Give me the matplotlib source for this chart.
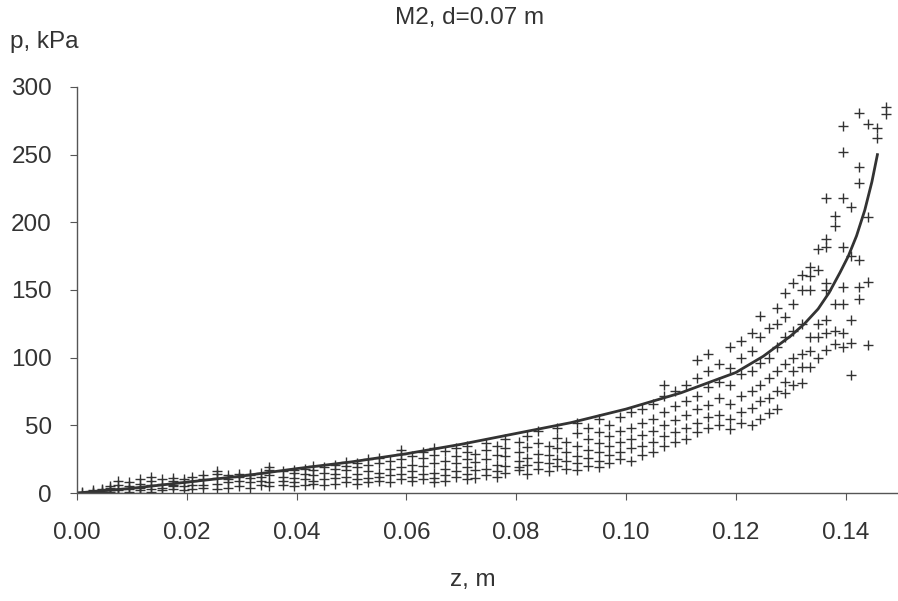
import matplotlib
matplotlib.use('Agg')
from matplotlib import pyplot as plt

# measured points, grouped by depth z (m); pressure p (kPa)
z_cols = [0.001, 0.003, 0.0045, 0.006, 0.0075, 0.0095, 0.0115, 0.0135, 0.0155, 0.0175,
          0.0195, 0.021, 0.023, 0.0255, 0.0275, 0.0295, 0.0315, 0.0335, 0.035, 0.0375,
          0.0395, 0.0415, 0.043, 0.045, 0.047, 0.049, 0.051, 0.053, 0.055, 0.057,
          0.059, 0.061, 0.063, 0.065, 0.067, 0.069, 0.071, 0.0725, 0.0745, 0.0765,
          0.078, 0.0805, 0.082, 0.084, 0.086, 0.0875, 0.089, 0.091, 0.093, 0.095,
          0.097, 0.099, 0.101, 0.103, 0.105, 0.107, 0.109, 0.111, 0.113, 0.115,
          0.117, 0.119, 0.121, 0.123, 0.1245, 0.126, 0.1275, 0.129, 0.1305, 0.132,
          0.1335, 0.135, 0.1365, 0.138, 0.1395, 0.141, 0.1425, 0.144, 0.1458, 0.1474]
p_cols = [
    [0, 1], [0, 1, 2], [1, 2, 3], [1, 2, 4, 5], [0, 2, 3, 6, 9],
    [1, 3, 5, 8], [0, 2, 4, 7, 10], [1, 3, 6, 9, 12], [2, 4, 7, 10], [3, 5, 6, 9, 11],
    [2, 5, 8, 10], [3, 6, 9, 12], [4, 6, 10, 13], [3, 7, 11, 14, 16], [4, 8, 10, 13],
    [5, 9, 12, 14], [4, 8, 11, 13, 14], [6, 9, 12, 15], [5, 8, 13, 17, 19], [6, 9, 12, 16],
    [5, 8, 11, 15, 17], [6, 10, 14, 18], [7, 9, 13, 17, 20], [6, 10, 15, 19], [7, 11, 14, 18, 21],
    [8, 12, 17, 20, 23], [7, 10, 14, 19, 22], [8, 11, 16, 21, 25], [9, 12, 15, 22, 26], [8, 13, 18, 24],
    [10, 14, 19, 25, 29, 32], [9, 12, 16, 21, 27], [10, 14, 20, 26, 30], [8, 11, 15, 22, 28, 33], [9, 13, 18, 24, 31],
    [12, 16, 22, 27, 33], [10, 14, 19, 25, 30, 35], [11, 17, 23, 29], [13, 18, 25, 32, 37], [12, 16, 21, 28, 35],
    [15, 20, 27, 33, 40], [17, 19, 24, 30, 38], [14, 21, 26, 34, 42], [18, 23, 29, 37, 46], [16, 22, 28, 35],
    [20, 25, 33, 41, 48], [18, 24, 30, 38], [17, 22, 27, 35, 44, 52], [20, 26, 32, 40, 48], [19, 24, 30, 37, 45, 55],
    [22, 28, 35, 42, 50], [25, 30, 38, 46, 56], [24, 33, 40, 48, 60], [28, 35, 43, 52, 62], [30, 38, 46, 55, 66],
    [35, 42, 50, 60, 72, 80], [38, 45, 54, 64, 75], [40, 48, 58, 68, 80], [45, 52, 62, 72, 85, 98], [48, 56, 65, 78, 90, 103],
    [50, 58, 70, 82, 95], [47, 55, 66, 80, 92, 108], [52, 60, 72, 88, 100, 112], [50, 63, 75, 90, 105, 118], [55, 68, 80, 96, 115, 131],
    [59, 70, 85, 100, 122], [62, 75, 90, 108, 125, 137], [74, 82, 95, 115, 130, 148], [80, 90, 100, 120, 140, 155], [81, 93, 103, 125, 150, 161],
    [93, 105, 115, 150, 160, 167], [100, 115, 125, 165, 180], [106, 118, 128, 150, 155, 182, 188, 218], [110, 120, 140, 197, 205], [108, 118, 140, 152, 182, 218, 252, 271],
    [87, 111, 128, 175, 211], [143, 152, 172, 229, 241, 281], [109, 156, 204, 273], [262, 270], [280, 285],
]

# model curve
z_fit = [0, 0.01, 0.02, 0.03, 0.04, 0.05, 0.06, 0.07, 0.08, 0.09, 0.10, 0.11, 0.12,
         0.125, 0.13, 0.1325, 0.135, 0.137, 0.139, 0.1405, 0.142, 0.1435, 0.1448, 0.1458]
p_fit = [0, 3.5, 8, 12.5, 18, 23, 29, 36, 44, 52, 62, 74, 89,
         101, 116, 125, 136, 148, 163, 175, 190, 209, 230, 250]

xticks = [0.00, 0.02, 0.04, 0.06, 0.08, 0.10, 0.12, 0.14]
yticks = [0, 50, 100, 150, 200, 250, 300]

ink = '#333333'
plt.rcParams['font.family'] = ['Liberation Sans', 'DejaVu Sans']

fig = plt.figure(figsize=(8.98, 6.01), dpi=100)
ax = fig.add_axes([0.0857, 0.1797, 0.914, 0.6756])

zs, ps = [], []
for z, col in zip(z_cols, p_cols):
    for p in col:
        zs.append(z)
        ps.append(p)
ax.plot(zs, ps, linestyle='none', marker='+', markersize=7, markeredgewidth=1.0, color=ink)
ax.plot(z_fit, p_fit, color=ink, linewidth=2.0)

ax.set_xlim(0, 0.1495)
ax.set_ylim(0, 300)
ax.set_xticks(xticks)
ax.set_xticklabels(['%.2f' % t for t in xticks])
ax.set_yticks(yticks)
for s in ['top', 'right']:
    ax.spines[s].set_visible(False)
for s in ['left', 'bottom']:
    ax.spines[s].set_color('#555555')
    ax.spines[s].set_linewidth(1.0)
ax.tick_params(axis='x', length=5, color='#555555', labelsize=17.5, labelcolor=ink, pad=16)
ax.tick_params(axis='y', length=5, color='#555555', labelsize=17.5, labelcolor=ink, pad=13)

fig.text(0.523, 0.97, 'M2, d=0.07 m', ha='center', va='center', fontsize=17.5, color=ink)
fig.text(0.011, 0.93, 'p, kPa', ha='left', va='center', fontsize=17.5, color=ink)
fig.text(0.527, 0.035, 'z, m', ha='center', va='center', fontsize=17.5, color=ink)

fig.savefig('out.png', dpi=100)
